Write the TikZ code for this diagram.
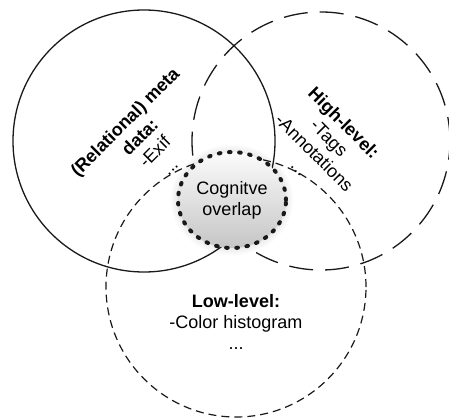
\documentclass[tikz,border=0pt]{standalone}
\usepackage{fontspec}
\setmainfont{Liberation Sans}
\usetikzlibrary{shapes.geometric, shadows.blur}

\tikzset{
  metaring/.style={draw=black!90, line width=1.3pt},
  highring/.style={draw=black!90, line width=1.3pt, dash pattern=on 24pt off 12pt},
  lowring/.style={draw=black!90, line width=1.2pt, dash pattern=on 8pt off 5pt},
  overlapbox/.style={ellipse, minimum width=108pt, minimum height=96pt, inner sep=0pt,
    top color=gray!3, bottom color=gray!45,
    blur shadow={shadow xshift=0pt, shadow yshift=0pt, shadow blur radius=8pt,
      shadow opacity=18, shadow blur steps=12}},
  overlapring/.style={draw=black!90, line width=4pt, line cap=round,
    dash pattern=on 1.6pt off 8.6pt},
  label/.style={align=center, font=\fontsize{18}{21}\selectfont, inner sep=0pt}
}

\begin{document}
\begin{tikzpicture}[x=1pt, y=1pt]
  \useasboundingbox (0,0) rectangle (449,418);

  % the three feature sets
  \draw[metaring] (144,277) circle[radius=131];
  \draw[highring] (321,277) circle[radius=129];
  \draw[lowring]  (236,131) circle[radius=130];

  % shared region in the middle, with its dotted rim
  \node[overlapbox] (overlap) at (232,218) {};
  \draw[overlapring] (overlap.center) ellipse[x radius=54, y radius=48];
  \node[label] (cog) at (overlap.center) {Cognitve\\overlap};

  % captions of the sets
  \node[label, rotate=45] (meta) at (147,274)
    {\textbf{(Relational) meta}\\\textbf{data:}\\-Exif\\...};
  \node[label, rotate=-45] (high) at (322,273)
    {\textbf{High-level:}\\-Tags\\-Annotations\\...};
  \node[label] (low) at (236,96)
    {\textbf{Low-level:}\\-Color histogram\\...};
\end{tikzpicture}
\end{document}
